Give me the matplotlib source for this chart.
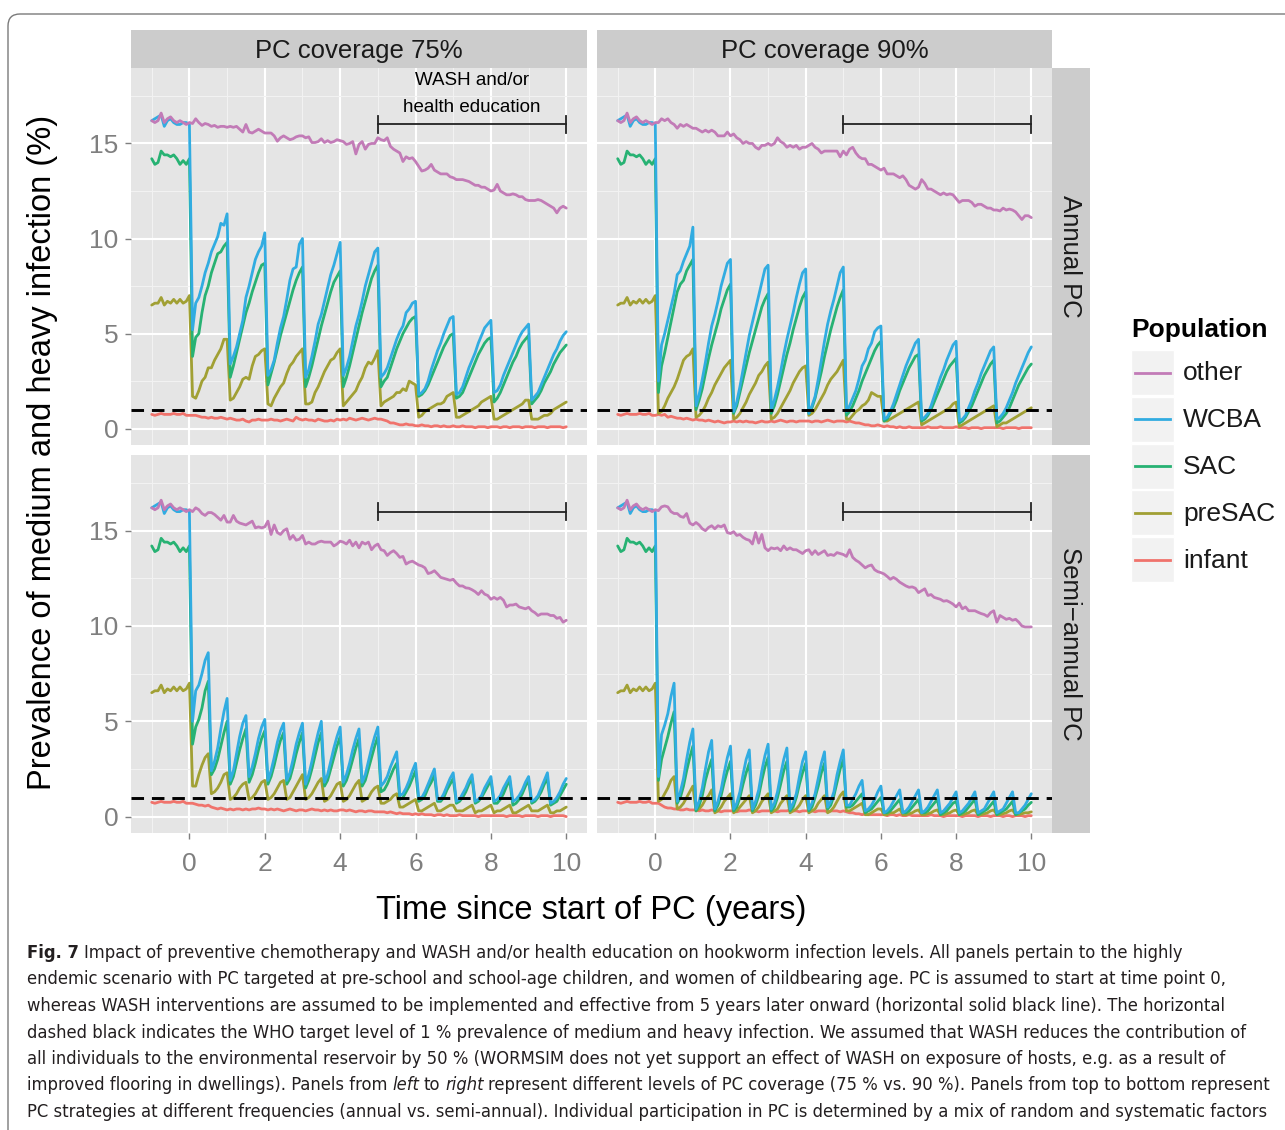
import numpy as np
import matplotlib
matplotlib.use("Agg")
import matplotlib.pyplot as plt
from matplotlib import font_manager
from matplotlib.patches import FancyBboxPatch, Rectangle

plt.rcParams["font.family"] = ["Liberation Sans", "DejaVu Sans"]

# monthly time steps: one year of burn-in, PC starts at year 0
months = np.arange(-12, 121)
years = months / 12.0

populations = ["other", "WCBA", "SAC", "preSAC", "infant"]
draw_order = ["infant", "preSAC", "SAC", "WCBA", "other"]
pop_colors = {"other": "#C27BB7", "WCBA": "#31ACE1", "SAC": "#27B273",
              "preSAC": "#A1A034", "infant": "#F0736C"}

col_titles = ["PC coverage 75%", "PC coverage 90%"]
row_titles = ["Annual PC", "Semi\u2212annual PC"]

who_target = 1.0
wash_start, wash_end, wash_level = 5, 10, 16.0

# prevalence of medium/heavy infection (%) before PC, months -12..0
pre_other = [16.2, 16.1, 16.2, 16.6, 16.1, 16.3, 16.4, 16.2, 16.1, 16.2, 16.1, 16.0, 16.1]
pre_wcba = [16.2, 16.3, 16.4, 16.5, 15.9, 16.2, 16.3, 16.1, 16.0, 16.0, 16.1, 16.1, 16.0]
pre_sac = [14.2, 13.9, 14.0, 14.6, 14.4, 14.4, 14.3, 14.4, 14.2, 13.9, 14.1, 13.9, 14.2]
pre_presac = [6.5, 6.6, 6.6, 6.9, 6.5, 6.7, 6.6, 6.8, 6.6, 6.8, 6.6, 6.7, 7.0]
pre_infant = [0.75, 0.7, 0.75, 0.8, 0.75, 0.75, 0.75, 0.8, 0.75, 0.75, 0.8, 0.7, 0.7]

# annual PC, 75% coverage, months 1..120
annual75_other = [
    16.05, 16.3, 16.1, 15.95, 16.05, 16.0, 15.9, 15.95, 15.85, 15.9, 15.9, 15.85,
    15.9, 15.85, 15.9, 15.75, 15.6, 16.0, 15.6, 15.55, 15.65, 15.75, 15.65, 15.55,
    15.55, 15.55, 15.4, 15.12, 15.3, 15.4, 15.3, 15.2, 15.25, 15.35, 15.4, 15.4,
    15.3, 15.35, 15.05, 15.05, 15.1, 15.25, 15.05, 15.15, 15.05, 15.1, 15.2, 15.15,
    15.1, 14.95, 15.0, 15.1, 14.45, 14.95, 15.1, 14.7, 14.95, 15.0, 15.0, 15.3,
    15.2, 15.15, 15.3, 14.85, 14.7, 14.6, 14.5, 14.05, 14.3, 14.2, 14.25, 14.05,
    13.8, 13.55, 13.6, 13.7, 13.9, 13.6, 13.5, 13.4, 13.4, 13.4, 13.25, 13.2,
    13.1, 13.1, 13.1, 13.05, 13.0, 12.9, 12.8, 12.8, 12.7, 12.7, 12.6, 12.5,
    12.55, 12.85, 12.5, 12.4, 12.3, 12.3, 12.35, 12.3, 12.2, 12.2, 12.05, 12.0,
    12.0, 12.0, 12.05, 12.0, 11.9, 11.8, 11.7, 11.6, 11.35, 11.6, 11.7, 11.6]
annual75_wcba = [
    5.2, 6.6, 6.9, 7.5, 8.2, 8.7, 9.3, 9.7, 10.1, 10.8, 10.7, 11.3,
    3.4, 3.8, 4.3, 5.0, 5.7, 6.9, 7.5, 8.2, 8.9, 9.3, 9.6, 10.3,
    2.8, 3.1, 3.6, 4.5, 5.3, 5.9, 6.8, 7.8, 8.4, 8.5, 9.7, 10.0,
    2.7, 3.1, 3.8, 4.6, 5.5, 6.0, 6.7, 7.4, 8.1, 8.6, 9.2, 9.8,
    2.8, 3.2, 3.8, 4.6, 5.4, 6.0, 6.7, 7.5, 8.1, 8.7, 9.3, 9.5,
    2.7, 2.9, 3.2, 3.7, 4.2, 4.7, 5.1, 5.4, 6.1, 6.3, 6.6, 6.7,
    1.8, 1.9, 2.1, 2.5, 3.1, 3.6, 4.1, 4.5, 5.0, 5.4, 5.8, 5.9,
    1.8, 1.9, 2.2, 2.7, 3.2, 3.6, 4.0, 4.5, 4.9, 5.3, 5.5, 5.7,
    1.9, 2.0, 2.3, 2.8, 3.2, 3.6, 4.0, 4.4, 4.8, 5.1, 5.3, 5.5,
    1.5, 1.7, 1.9, 2.3, 2.7, 3.1, 3.5, 3.9, 4.2, 4.6, 4.9, 5.1]
annual75_sac = [
    3.8, 4.8, 5.0, 6.1, 7.0, 7.5, 8.2, 8.7, 9.2, 9.3, 9.6, 9.8,
    2.7, 3.3, 4.0, 4.7, 5.4, 6.1, 6.6, 7.2, 7.7, 8.2, 8.6, 8.7,
    2.3, 2.9, 3.5, 4.2, 4.9, 5.5, 6.1, 6.7, 7.3, 7.8, 8.2, 8.5,
    2.2, 2.7, 3.3, 4.0, 4.7, 5.4, 6.0, 6.6, 7.2, 7.7, 8.0, 8.3,
    2.2, 2.7, 3.3, 4.0, 4.7, 5.4, 6.1, 6.7, 7.3, 7.9, 8.3, 8.6,
    2.2, 2.5, 2.7, 3.2, 3.7, 4.2, 4.6, 5.0, 5.3, 5.6, 5.8, 5.9,
    1.7, 1.8, 2.0, 2.3, 2.7, 3.1, 3.5, 3.9, 4.3, 4.6, 4.9, 5.0,
    1.6, 1.7, 1.9, 2.3, 2.7, 3.1, 3.5, 3.9, 4.2, 4.5, 4.7, 4.8,
    1.4, 1.6, 1.9, 2.3, 2.7, 3.1, 3.5, 3.8, 4.2, 4.5, 4.7, 4.9,
    1.3, 1.5, 1.7, 2.0, 2.4, 2.7, 3.0, 3.4, 3.7, 4.0, 4.2, 4.4]
annual75_presac = [
    1.7, 1.6, 2.0, 2.5, 2.7, 3.2, 3.2, 3.6, 3.9, 4.2, 4.7, 4.7,
    1.5, 1.6, 1.9, 2.2, 2.6, 2.7, 2.6, 3.3, 3.8, 3.9, 4.1, 4.2,
    1.3, 1.2, 1.6, 1.9, 2.2, 2.4, 2.9, 3.3, 3.5, 3.8, 4.0, 4.2,
    1.3, 1.3, 1.4, 1.9, 2.2, 2.6, 3.0, 3.3, 3.6, 3.7, 4.0, 4.2,
    1.2, 1.4, 1.6, 1.8, 2.0, 2.4, 2.7, 3.2, 3.5, 3.4, 3.7, 4.1,
    1.2, 1.4, 1.5, 1.6, 1.7, 1.9, 1.9, 2.1, 2.0, 2.5, 2.4, 2.3,
    0.6, 0.7, 0.9, 1.0, 1.1, 1.2, 1.3, 1.3, 1.4, 1.7, 1.8, 1.9,
    0.6, 0.6, 0.7, 0.8, 0.9, 1.0, 1.1, 1.2, 1.4, 1.5, 1.6, 1.7,
    0.5, 0.5, 0.6, 0.7, 0.8, 0.9, 1.0, 1.1, 1.2, 1.3, 1.5, 1.5,
    0.5, 0.5, 0.5, 0.6, 0.7, 0.7, 0.8, 1.0, 1.1, 1.2, 1.3, 1.4]
annual75_infant = [
    0.7, 0.7, 0.65, 0.6, 0.6, 0.55, 0.6, 0.55, 0.55, 0.6, 0.55, 0.5,
    0.55, 0.5, 0.45, 0.45, 0.5, 0.4, 0.35, 0.45, 0.45, 0.5, 0.45, 0.45,
    0.45, 0.5, 0.45, 0.45, 0.4, 0.45, 0.5, 0.45, 0.4, 0.6, 0.5, 0.45,
    0.5, 0.45, 0.45, 0.4, 0.5, 0.45, 0.4, 0.4, 0.45, 0.4, 0.5, 0.45,
    0.5, 0.45, 0.55, 0.5, 0.45, 0.5, 0.55, 0.5, 0.45, 0.5, 0.55, 0.5,
    0.5, 0.45, 0.4, 0.3, 0.3, 0.25, 0.2, 0.2, 0.25, 0.2, 0.2, 0.15,
    0.15, 0.2, 0.15, 0.15, 0.1, 0.15, 0.15, 0.1, 0.15, 0.1, 0.1, 0.15,
    0.1, 0.1, 0.15, 0.1, 0.1, 0.1, 0.05, 0.1, 0.1, 0.1, 0.05, 0.1,
    0.1, 0.1, 0.05, 0.1, 0.1, 0.05, 0.1, 0.1, 0.1, 0.05, 0.1, 0.1,
    0.1, 0.05, 0.1, 0.1, 0.1, 0.05, 0.1, 0.1, 0.1, 0.1, 0.05, 0.1]

# annual PC, 90% coverage
annual90_other = [
    16.1, 16.3, 16.2, 16.3, 16.1, 16.0, 15.8, 16.0, 15.9, 16.0, 15.9, 15.8,
    15.8, 15.7, 15.6, 15.7, 15.6, 15.7, 15.6, 15.4, 15.4, 15.4, 15.6, 15.4,
    15.5, 15.3, 15.2, 15.0, 15.1, 15.0, 15.0, 14.8, 14.7, 14.9, 14.9, 15.0,
    14.9, 15.0, 15.3, 15.1, 15.0, 14.8, 14.9, 14.8, 14.9, 14.7, 14.8, 14.8,
    14.9, 15.0, 14.8, 14.7, 14.5, 14.6, 14.6, 14.6, 14.6, 14.6, 14.3, 14.6,
    14.4, 14.7, 14.8, 14.5, 14.3, 14.2, 14.2, 13.9, 13.9, 13.8, 13.7, 13.6,
    13.7, 13.4, 13.4, 13.4, 13.3, 13.2, 13.3, 13.1, 12.8, 12.7, 12.6, 12.7,
    13.1, 12.9, 12.6, 12.6, 12.5, 12.4, 12.3, 12.4, 12.3, 12.35, 12.3, 12.1,
    11.9, 12.0, 12.0, 12.0, 11.9, 11.7, 11.8, 11.8, 11.7, 11.6, 11.6, 11.5,
    11.5, 11.45, 11.6, 11.5, 11.55, 11.5, 11.4, 11.2, 11.0, 11.2, 11.2, 11.1]
annual90_wcba = [
    2.5, 4.4, 5.0, 5.7, 6.4, 7.1, 8.1, 8.3, 8.8, 9.2, 9.6, 10.6,
    1.2, 1.8, 2.6, 3.5, 4.5, 5.4, 6.0, 6.7, 7.5, 8.1, 8.7, 8.9,
    0.9, 1.4, 2.2, 3.1, 4.0, 4.9, 5.6, 6.3, 7.0, 7.7, 8.4, 8.6,
    1.0, 1.5, 2.2, 3.0, 3.9, 4.7, 5.4, 6.1, 6.9, 7.6, 8.2, 8.4,
    0.8, 1.2, 1.7, 2.6, 3.6, 4.6, 5.5, 6.2, 6.8, 7.5, 8.2, 8.5,
    0.9, 1.2, 1.6, 2.0, 2.6, 3.3, 3.6, 4.2, 4.5, 5.1, 5.3, 5.4,
    0.5, 0.6, 0.9, 1.3, 1.8, 2.3, 2.8, 3.3, 3.7, 4.1, 4.5, 4.7,
    0.5, 0.6, 0.8, 1.2, 1.7, 2.2, 2.7, 3.1, 3.6, 4.0, 4.4, 4.6,
    0.4, 0.5, 0.7, 1.1, 1.5, 2.0, 2.4, 2.9, 3.3, 3.7, 4.1, 4.3,
    0.5, 0.6, 0.8, 1.1, 1.5, 1.9, 2.4, 2.8, 3.2, 3.6, 4.0, 4.3]
annual90_sac = [
    1.9, 3.3, 4.0, 4.8, 5.6, 6.4, 7.2, 7.6, 7.8, 8.3, 8.6, 8.9,
    1.0, 1.5, 2.1, 2.9, 3.7, 4.4, 5.0, 5.6, 6.3, 6.8, 7.3, 7.6,
    0.8, 1.2, 1.9, 2.6, 3.3, 4.0, 4.6, 5.2, 5.8, 6.4, 6.8, 7.1,
    0.8, 1.2, 1.8, 2.5, 3.2, 3.9, 4.5, 5.2, 5.8, 6.4, 6.9, 7.2,
    0.8, 1.1, 1.6, 2.3, 3.0, 3.8, 4.5, 5.2, 5.8, 6.4, 6.9, 7.3,
    0.7, 0.9, 1.2, 1.6, 2.0, 2.5, 2.9, 3.3, 3.7, 4.1, 4.4, 4.6,
    0.4, 0.5, 0.8, 1.1, 1.5, 2.0, 2.4, 2.8, 3.2, 3.5, 3.8, 3.9,
    0.4, 0.5, 0.7, 1.0, 1.4, 1.8, 2.2, 2.6, 3.0, 3.3, 3.5, 3.7,
    0.3, 0.4, 0.6, 0.9, 1.2, 1.6, 2.0, 2.4, 2.8, 3.1, 3.4, 3.6,
    0.3, 0.4, 0.6, 0.8, 1.1, 1.5, 1.9, 2.3, 2.6, 2.9, 3.2, 3.4]
annual90_presac = [
    0.8, 0.9, 1.2, 1.6, 1.9, 2.2, 2.6, 3.1, 3.6, 3.8, 3.9, 4.2,
    0.6, 0.7, 0.9, 1.2, 1.6, 1.9, 2.3, 2.6, 2.9, 3.2, 3.4, 3.6,
    0.5, 0.6, 0.8, 1.1, 1.4, 1.8, 2.1, 2.4, 2.8, 3.0, 3.3, 3.5,
    0.5, 0.6, 0.8, 1.1, 1.4, 1.7, 2.0, 2.4, 2.7, 3.0, 3.2, 3.3,
    0.7, 0.8, 1.0, 1.3, 1.6, 1.9, 2.3, 2.6, 2.8, 3.0, 3.3, 3.6,
    0.5, 0.5, 0.7, 0.9, 1.0, 1.2, 1.3, 1.5, 1.9, 1.8, 1.7, 1.7,
    0.4, 0.4, 0.5, 0.6, 0.7, 0.8, 0.9, 1.0, 1.1, 1.2, 1.3, 1.4,
    0.2, 0.3, 0.4, 0.5, 0.6, 0.7, 0.8, 0.9, 1.0, 1.1, 1.3, 1.4,
    0.1, 0.2, 0.3, 0.4, 0.5, 0.6, 0.7, 0.8, 0.9, 1.0, 1.1, 1.2,
    0.1, 0.2, 0.3, 0.3, 0.4, 0.5, 0.6, 0.7, 0.8, 0.9, 1.0, 1.1]
annual90_infant = [
    0.75, 0.7, 0.75, 0.6, 0.65, 0.6, 0.55, 0.55, 0.5, 0.55, 0.5, 0.45,
    0.5, 0.45, 0.45, 0.4, 0.45, 0.4, 0.35, 0.4, 0.35, 0.3, 0.35, 0.35,
    0.4, 0.35, 0.4, 0.35, 0.4, 0.35, 0.35, 0.3, 0.35, 0.4, 0.35, 0.35,
    0.4, 0.35, 0.4, 0.45, 0.4, 0.35, 0.4, 0.4, 0.35, 0.4, 0.4, 0.4,
    0.4, 0.35, 0.4, 0.4, 0.35, 0.4, 0.45, 0.4, 0.35, 0.4, 0.4, 0.4,
    0.35, 0.4, 0.35, 0.3, 0.3, 0.25, 0.2, 0.2, 0.15, 0.15, 0.2, 0.15,
    0.1, 0.15, 0.1, 0.1, 0.05, 0.1, 0.05, 0.05, 0.1, 0.05, 0.05, 0.05,
    0.05, 0.05, 0.1, 0.05, 0.05, 0.05, 0.1, 0.05, 0.05, 0.05, 0.05, 0.1,
    0.05, 0.05, 0.05, 0.0, 0.05, 0.05, 0.05, 0.0, 0.05, 0.05, 0.05, 0.05,
    0.05, 0.05, 0.0, 0.05, 0.05, 0.05, 0.05, 0.0, 0.05, 0.05, 0.05, 0.05]

# semi-annual PC, 75% coverage
semi75_other = [
    16.0, 16.2, 16.1, 15.9, 15.8, 15.95, 15.95, 15.85, 15.7, 15.55, 15.8, 15.45,
    15.45, 15.8, 15.5, 15.4, 15.35, 15.3, 15.4, 15.5, 15.15, 15.2, 15.15, 15.2,
    15.5, 14.8, 15.3, 14.9, 14.8, 15.0, 15.1, 14.55, 14.75, 14.5, 14.55, 14.75,
    14.3, 14.4, 14.3, 14.3, 14.4, 14.45, 14.4, 14.4, 14.4, 14.2, 14.3, 14.45,
    14.4, 14.3, 14.5, 14.2, 14.4, 14.1, 14.4, 14.3, 14.4, 14.0, 14.2, 14.3,
    14.0, 13.95, 13.7, 13.85, 13.95, 13.8, 13.6, 13.65, 13.25, 13.35, 13.4, 13.3,
    13.2, 13.15, 13.05, 12.75, 12.8, 12.9, 12.73, 12.55, 12.5, 12.45, 12.4, 12.45,
    12.25, 12.1, 12.1, 12.0, 11.98, 11.9, 11.8, 11.65, 11.85, 11.67, 11.6, 11.4,
    11.5, 11.4, 11.5, 11.35, 11.0, 11.1, 11.1, 11.15, 11.0, 10.95, 10.9, 10.98,
    10.8, 10.7, 10.55, 10.63, 10.63, 10.63, 10.55, 10.55, 10.4, 10.45, 10.2, 10.3]
semi75_wcba = [
    5.0, 6.6, 6.9, 7.5, 8.2, 8.6, 2.4, 2.9, 3.6, 4.6, 5.5, 6.2,
    1.9, 2.4, 3.3, 4.2, 4.9, 5.3, 2.1, 2.6, 3.3, 4.1, 4.7, 5.1,
    1.9, 2.4, 3.1, 3.9, 4.5, 4.9, 1.9, 2.3, 3.0, 3.8, 4.4, 4.9,
    1.7, 2.2, 2.9, 3.7, 4.4, 5.0, 1.8, 2.2, 2.9, 3.6, 4.2, 4.7,
    1.8, 2.2, 2.8, 3.5, 4.1, 4.6, 1.8, 2.2, 2.9, 3.6, 4.2, 4.7,
    1.6, 1.8, 2.1, 2.6, 3.0, 3.4, 1.1, 1.2, 1.5, 1.9, 2.4, 2.8,
    1.0, 1.0, 1.3, 1.7, 2.1, 2.5, 0.9, 0.9, 1.2, 1.6, 2.0, 2.3,
    0.8, 0.9, 1.2, 1.5, 1.9, 2.2, 0.8, 0.9, 1.1, 1.5, 1.8, 2.1,
    0.8, 0.9, 1.1, 1.5, 1.8, 2.1, 0.8, 0.9, 1.1, 1.4, 1.8, 2.1,
    0.8, 0.9, 1.1, 1.5, 1.9, 2.3, 0.7, 0.8, 1.0, 1.3, 1.7, 2.0]
semi75_sac = [
    3.8, 4.7, 5.1, 5.7, 6.6, 7.1, 2.2, 2.5, 3.0, 3.7, 4.4, 5.0,
    1.7, 2.1, 2.8, 3.5, 4.1, 4.6, 1.8, 2.2, 2.8, 3.5, 4.1, 4.5,
    1.7, 2.1, 2.7, 3.4, 4.0, 4.4, 1.7, 2.0, 2.6, 3.3, 3.9, 4.4,
    1.5, 1.9, 2.5, 3.2, 3.9, 4.4, 1.6, 1.9, 2.5, 3.1, 3.7, 4.2,
    1.6, 1.9, 2.4, 3.0, 3.6, 4.1, 1.6, 1.9, 2.5, 3.1, 3.7, 4.2,
    1.3, 1.4, 1.7, 2.1, 2.5, 2.8, 0.9, 1.0, 1.3, 1.6, 2.0, 2.4,
    0.8, 0.9, 1.1, 1.5, 1.8, 2.2, 0.8, 0.8, 1.0, 1.4, 1.7, 2.0,
    0.7, 0.8, 1.0, 1.3, 1.7, 2.0, 0.7, 0.8, 1.0, 1.3, 1.6, 1.9,
    0.7, 0.7, 0.9, 1.2, 1.6, 1.9, 0.6, 0.7, 0.9, 1.2, 1.6, 1.9,
    0.7, 0.8, 1.0, 1.3, 1.7, 2.0, 0.6, 0.7, 0.8, 1.1, 1.4, 1.7]
semi75_presac = [
    1.6, 1.6, 2.2, 2.7, 3.1, 3.3, 1.2, 1.3, 1.5, 1.8, 2.2, 2.3,
    0.9, 1.0, 1.2, 1.5, 1.7, 1.8, 0.9, 1.0, 1.2, 1.5, 1.8, 1.9,
    0.9, 1.0, 1.2, 1.5, 1.8, 1.9, 0.9, 1.0, 1.3, 1.6, 1.9, 2.2,
    0.9, 1.0, 1.2, 1.5, 1.8, 2.0, 0.8, 0.9, 1.1, 1.4, 1.7, 1.8,
    0.8, 0.9, 1.1, 1.4, 1.7, 1.9, 0.8, 0.9, 1.0, 1.3, 1.5, 1.6,
    0.7, 0.7, 0.8, 0.9, 1.1, 1.2, 0.5, 0.5, 0.6, 0.7, 0.8, 0.9,
    0.3, 0.3, 0.4, 0.5, 0.6, 0.7, 0.3, 0.3, 0.4, 0.5, 0.6, 0.6,
    0.3, 0.3, 0.3, 0.4, 0.5, 0.6, 0.2, 0.3, 0.3, 0.4, 0.5, 0.6,
    0.2, 0.3, 0.3, 0.4, 0.5, 0.6, 0.2, 0.2, 0.3, 0.4, 0.5, 0.6,
    0.3, 0.3, 0.3, 0.4, 0.5, 0.6, 0.2, 0.2, 0.3, 0.3, 0.4, 0.5]
semi75_infant = [
    0.7, 0.65, 0.6, 0.6, 0.55, 0.6, 0.5, 0.45, 0.4, 0.45, 0.4, 0.35,
    0.4, 0.35, 0.4, 0.4, 0.35, 0.4, 0.35, 0.4, 0.4, 0.45, 0.4, 0.4,
    0.35, 0.4, 0.35, 0.4, 0.35, 0.3, 0.35, 0.4, 0.35, 0.3, 0.35, 0.35,
    0.3, 0.35, 0.4, 0.35, 0.35, 0.3, 0.35, 0.3, 0.35, 0.3, 0.3, 0.35,
    0.35, 0.3, 0.35, 0.3, 0.25, 0.3, 0.3, 0.25, 0.3, 0.3, 0.25, 0.25,
    0.25, 0.25, 0.2, 0.25, 0.2, 0.15, 0.2, 0.15, 0.15, 0.15, 0.1, 0.15,
    0.1, 0.15, 0.1, 0.1, 0.1, 0.05, 0.1, 0.1, 0.05, 0.1, 0.05, 0.05,
    0.05, 0.1, 0.05, 0.05, 0.05, 0.05, 0.05, 0.0, 0.05, 0.05, 0.05, 0.05,
    0.05, 0.05, 0.05, 0.05, 0.0, 0.05, 0.05, 0.05, 0.05, 0.0, 0.05, 0.05,
    0.05, 0.05, 0.0, 0.05, 0.05, 0.05, 0.0, 0.05, 0.05, 0.05, 0.05, 0.0]

# semi-annual PC, 90% coverage
semi90_other = [
    16.05, 16.25, 16.3, 16.25, 16.0, 15.9, 15.9, 15.75, 15.7, 15.9, 15.4, 15.3,
    15.43, 15.3, 15.1, 15.0, 15.17, 15.26, 15.1, 15.26, 15.2, 15.3, 14.9, 14.85,
    14.95, 14.75, 14.8, 14.65, 14.55, 14.5, 14.3, 14.9, 14.35, 14.8, 14.1, 13.95,
    14.1, 14.05, 14.1, 13.95, 14.2, 14.0, 14.1, 14.0, 14.0, 13.9, 13.8, 13.95,
    14.0, 13.75, 13.95, 13.75, 13.85, 13.95, 13.7, 13.75, 13.7, 13.85, 13.8, 13.75,
    13.65, 14.0, 13.6, 13.45, 13.35, 13.2, 13.05, 13.15, 13.2, 12.95, 12.85, 12.8,
    12.73, 12.6, 12.45, 12.55, 12.45, 12.3, 12.2, 12.1, 12.03, 12.05, 11.98, 11.75,
    11.85, 11.95, 11.6, 11.65, 11.5, 11.45, 11.4, 11.3, 11.33, 11.25, 11.15, 11.0,
    11.2, 10.9, 11.0, 10.8, 10.8, 10.8, 10.72, 10.65, 10.6, 10.5, 10.7, 10.8,
    10.2, 10.55, 10.45, 10.35, 10.4, 10.3, 10.35, 10.2, 10.0, 9.95, 9.95, 9.95]
semi90_wcba = [
    2.1, 4.3, 4.8, 5.4, 6.3, 7.0, 0.8, 1.3, 2.0, 3.0, 3.9, 4.6,
    0.4, 0.8, 1.5, 2.5, 3.4, 4.0, 0.4, 0.8, 1.4, 2.3, 3.1, 3.7,
    0.4, 0.7, 1.3, 2.2, 3.0, 3.5, 0.4, 0.8, 1.4, 2.4, 3.2, 3.8,
    0.4, 0.7, 1.3, 2.2, 3.0, 3.6, 0.4, 0.7, 1.2, 2.1, 2.9, 3.4,
    0.4, 0.7, 1.2, 2.0, 2.8, 3.4, 0.5, 0.8, 1.3, 2.2, 2.9, 3.5,
    0.6, 0.6, 0.9, 1.2, 1.6, 1.9, 0.3, 0.4, 0.6, 0.9, 1.3, 1.6,
    0.2, 0.3, 0.5, 0.8, 1.1, 1.4, 0.2, 0.3, 0.5, 0.8, 1.1, 1.4,
    0.2, 0.3, 0.5, 0.8, 1.1, 1.4, 0.2, 0.3, 0.5, 0.7, 1.0, 1.3,
    0.2, 0.3, 0.5, 0.7, 1.0, 1.3, 0.2, 0.3, 0.4, 0.7, 1.0, 1.3,
    0.2, 0.3, 0.4, 0.7, 1.0, 1.3, 0.2, 0.2, 0.4, 0.6, 0.9, 1.2]
semi90_sac = [
    1.9, 3.0, 3.6, 4.2, 4.9, 5.5, 0.7, 1.0, 1.6, 2.4, 3.1, 3.7,
    0.3, 0.6, 1.1, 1.9, 2.5, 3.0, 0.3, 0.6, 1.1, 1.8, 2.4, 2.9,
    0.3, 0.5, 1.0, 1.7, 2.3, 2.8, 0.3, 0.6, 1.1, 1.9, 2.6, 3.1,
    0.3, 0.5, 1.0, 1.7, 2.4, 2.9, 0.3, 0.5, 1.0, 1.7, 2.3, 2.8,
    0.3, 0.5, 1.0, 1.6, 2.3, 2.8, 0.4, 0.6, 1.1, 1.8, 2.5, 3.0,
    0.5, 0.5, 0.6, 0.8, 1.0, 1.2, 0.2, 0.3, 0.4, 0.6, 0.8, 1.0,
    0.2, 0.2, 0.3, 0.5, 0.7, 0.9, 0.2, 0.2, 0.3, 0.5, 0.7, 0.9,
    0.2, 0.2, 0.3, 0.5, 0.7, 0.9, 0.1, 0.2, 0.3, 0.5, 0.7, 0.8,
    0.1, 0.2, 0.3, 0.5, 0.7, 0.9, 0.1, 0.2, 0.3, 0.4, 0.6, 0.8,
    0.1, 0.2, 0.3, 0.4, 0.6, 0.8, 0.1, 0.2, 0.3, 0.4, 0.6, 0.75]
semi90_presac = [
    0.8, 0.9, 1.2, 1.5, 1.9, 2.1, 0.4, 0.5, 0.7, 1.0, 1.3, 1.6,
    0.3, 0.4, 0.6, 0.9, 1.1, 1.4, 0.2, 0.3, 0.5, 0.8, 1.0, 1.2,
    0.2, 0.3, 0.5, 0.7, 0.9, 1.1, 0.2, 0.3, 0.5, 0.8, 1.0, 1.2,
    0.2, 0.3, 0.4, 0.7, 0.9, 1.1, 0.2, 0.3, 0.4, 0.6, 0.9, 1.1,
    0.2, 0.3, 0.4, 0.7, 0.9, 1.1, 0.2, 0.3, 0.5, 0.8, 1.1, 1.3,
    0.3, 0.3, 0.4, 0.5, 0.6, 0.7, 0.1, 0.1, 0.2, 0.3, 0.4, 0.4,
    0.1, 0.1, 0.2, 0.2, 0.3, 0.4, 0.1, 0.1, 0.15, 0.2, 0.3, 0.35,
    0.1, 0.1, 0.15, 0.2, 0.3, 0.35, 0.1, 0.1, 0.15, 0.2, 0.3, 0.35,
    0.1, 0.1, 0.15, 0.2, 0.3, 0.35, 0.1, 0.1, 0.15, 0.2, 0.3, 0.35,
    0.1, 0.1, 0.15, 0.2, 0.3, 0.35, 0.1, 0.1, 0.15, 0.2, 0.2, 0.25]
semi90_infant = [
    0.7, 0.6, 0.5, 0.45, 0.45, 0.4, 0.4, 0.35, 0.35, 0.4, 0.35, 0.35,
    0.35, 0.3, 0.35, 0.3, 0.3, 0.35, 0.3, 0.3, 0.25, 0.3, 0.3, 0.3,
    0.3, 0.25, 0.3, 0.3, 0.3, 0.35, 0.3, 0.3, 0.25, 0.3, 0.3, 0.3,
    0.3, 0.3, 0.25, 0.3, 0.3, 0.3, 0.35, 0.3, 0.3, 0.25, 0.3, 0.3,
    0.3, 0.3, 0.25, 0.3, 0.3, 0.3, 0.25, 0.3, 0.3, 0.3, 0.25, 0.3,
    0.25, 0.2, 0.2, 0.15, 0.15, 0.1, 0.15, 0.1, 0.1, 0.1, 0.1, 0.1,
    0.1, 0.05, 0.1, 0.1, 0.05, 0.1, 0.05, 0.05, 0.1, 0.05, 0.05, 0.05,
    0.05, 0.05, 0.05, 0.1, 0.05, 0.05, 0.05, 0.0, 0.05, 0.05, 0.05, 0.05,
    0.05, 0.0, 0.05, 0.05, 0.05, 0.05, 0.0, 0.05, 0.05, 0.05, 0.0, 0.05,
    0.05, 0.05, 0.0, 0.05, 0.05, 0.0, 0.05, 0.05, 0.05, 0.0, 0.05, 0.05]

caption_lines = [
    [("Fig. 7", "bold", "normal"),
     ("Impact of preventive chemotherapy and WASH and/or health education on hookworm "
      "infection levels. All panels pertain to the highly", "normal", "normal")],
    [("endemic scenario with PC targeted at pre-school and school-age children, and women "
      "of childbearing age. PC is assumed to start at time point 0,", "normal", "normal")],
    [("whereas WASH interventions are assumed to be implemented and effective from 5 years "
      "later onward (horizontal solid black line). The horizontal", "normal", "normal")],
    [("dashed black indicates the WHO target level of 1 % prevalence of medium and heavy "
      "infection. We assumed that WASH reduces the contribution of", "normal", "normal")],
    [("all individuals to the environmental reservoir by 50 % (WORMSIM does not yet support "
      "an effect of WASH on exposure of hosts, e.g. as a result of", "normal", "normal")],
    [("improved flooring in dwellings). Panels from", "normal", "normal"),
     ("left", "normal", "italic"), ("to", "normal", "normal"), ("right", "normal", "italic"),
     ("represent different levels of PC coverage (75 % vs. 90 %). Panels from top to bottom "
      "represent", "normal", "normal")],
    [("PC strategies at different frequencies (annual vs. semi-annual). Individual "
      "participation in PC is determined by a mix of random and systematic factors",
      "normal", "normal")],
]


def full_series(pre, post):
    assert len(post) == 120
    return np.array(pre + post)


def scenario(other, wcba, sac, presac, infant):
    return {"other": full_series(pre_other, other),
            "WCBA": full_series(pre_wcba, wcba),
            "SAC": full_series(pre_sac, sac),
            "preSAC": full_series(pre_presac, presac),
            "infant": full_series(pre_infant, infant)}


panels = {
    (0, 0): scenario(annual75_other, annual75_wcba, annual75_sac, annual75_presac, annual75_infant),
    (0, 1): scenario(annual90_other, annual90_wcba, annual90_sac, annual90_presac, annual90_infant),
    (1, 0): scenario(semi75_other, semi75_wcba, semi75_sac, semi75_presac, semi75_infant),
    (1, 1): scenario(semi90_other, semi90_wcba, semi90_sac, semi90_presac, semi90_infant),
}

W, H = 1285, 1130


def px_rect(x0, y0, x1, y1):
    # pixel box measured from the top-left corner -> figure fraction
    return [x0 / W, 1 - y1 / H, (x1 - x0) / W, (y1 - y0) / H]


def style_strip(ax):
    ax.set_facecolor("#CCCCCC")
    ax.set_xticks([])
    ax.set_yticks([])
    for s in ax.spines.values():
        s.set_visible(False)


fig = plt.figure(figsize=(W / 100, H / 100), dpi=100)

# rounded frame around figure and caption
fig.add_artist(FancyBboxPatch((0.08, -0.5), 13.3, 11.66,
                              boxstyle="round,pad=0,rounding_size=0.12",
                              transform=fig.dpi_scale_trans, fill=False,
                              ec="#7A7A7A", lw=1.0))

col_px = [(131, 587), (597, 1052)]
row_px = [(68, 445), (455, 833)]

for r in range(2):
    for c in range(2):
        ax = fig.add_axes(px_rect(col_px[c][0], row_px[r][0], col_px[c][1], row_px[r][1]))
        ax.set_facecolor("#E5E5E5")
        ax.set_xlim(-1.55, 10.55)
        ax.set_ylim(-0.86, 18.97)
        ax.set_xticks(range(0, 11, 2))
        ax.set_xticks(range(-1, 10, 2), minor=True)
        ax.set_yticks([0, 5, 10, 15])
        ax.set_yticks([2.5, 7.5, 12.5, 17.5], minor=True)
        ax.grid(which="major", color="white", lw=1.5)
        ax.grid(which="minor", color="#F2F2F2", lw=0.75)
        ax.set_axisbelow(True)
        for s in ax.spines.values():
            s.set_visible(False)
        ax.tick_params(which="major", direction="out", length=4.5, width=1.0,
                       color="#7F7F7F", labelcolor="#7F7F7F", labelsize=19)
        ax.tick_params(which="minor", length=0)
        ax.tick_params(axis="x", pad=9.5, bottom=(r == 1), labelbottom=(r == 1))
        ax.tick_params(axis="y", pad=4.5, left=(c == 0), labelleft=(c == 0))

        data = panels[(r, c)]
        for pop in draw_order:
            ax.plot(years, data[pop], color=pop_colors[pop], lw=2.0,
                    solid_joinstyle="round", solid_capstyle="round", zorder=2)
        ax.axhline(who_target, color="black", lw=2.1, dashes=(4.3, 2.7), zorder=3)

        # WASH period bracket
        ax.plot([wash_start, wash_end], [wash_level, wash_level], color="#222222", lw=1.3, zorder=3)
        for xe in (wash_start, wash_end):
            ax.plot([xe, xe], [wash_level - 0.45, wash_level + 0.45], color="#222222", lw=1.3, zorder=3)
        if (r, c) == (0, 0):
            ax.text((wash_start + wash_end) / 2, 17.6, "WASH and/or\nhealth education",
                    ha="center", va="center", fontsize=13.5, linespacing=1.8)

# facet strips
for c in range(2):
    sax = fig.add_axes(px_rect(col_px[c][0], 30, col_px[c][1], 68))
    style_strip(sax)
    sax.text(0.5, 0.45, col_titles[c], transform=sax.transAxes, ha="center", va="center",
             fontsize=18.5, color="#1A1A1A")
for r in range(2):
    sax = fig.add_axes(px_rect(1052, row_px[r][0], 1090, row_px[r][1]))
    style_strip(sax)
    sax.text(0.47, 0.5, row_titles[r], transform=sax.transAxes, ha="center", va="center",
             rotation=270, fontsize=18.5, color="#1A1A1A")

# axis titles
fig.text(591 / W, 1 - 910 / H, "Time since start of PC (years)", ha="center", va="center",
         fontsize=23.5)
fig.text(43 / W, 1 - 452 / H, "Prevalence of medium and heavy infection (%)", rotation=90,
         ha="center", va="center", fontsize=23.5)

# legend
leg = fig.add_axes(px_rect(1120, 300, 1285, 600))
leg.set_xlim(1120, 1285)
leg.set_ylim(600, 300)
leg.axis("off")
leg.text(1131, 337, "Population", fontsize=19, fontweight="bold", va="baseline", ha="left")
for i, pop in enumerate(populations):
    y0 = 350 + 46.8 * i
    leg.add_patch(Rectangle((1131, y0), 43, 45, facecolor="#F2F2F2", edgecolor="white", lw=1))
    leg.plot([1135, 1170], [y0 + 22.5, y0 + 22.5], color=pop_colors[pop], lw=2.0)
    leg.text(1183, y0 + 23.5, pop, va="center", ha="left", fontsize=19, color="#1A1A1A")


# caption
def caption_font():
    fonts = font_manager.fontManager.ttflist
    if any(f.name == "Liberation Sans Narrow" for f in fonts):
        return "Liberation Sans Narrow", "normal"
    if any(f.name == "DejaVu Sans" and f.stretch == "condensed" for f in fonts):
        return "DejaVu Sans", "condensed"
    return "Liberation Sans", "normal"


cap_family, cap_stretch = caption_font()
cap_ax = fig.add_axes([0, 0, 1, 1])
cap_ax.axis("off")
cap_ax.set_xlim(0, W)
cap_ax.set_ylim(H, 0)

renderer = fig.canvas.get_renderer()
probe_text = " ".join(p[0] for p in caption_lines[5])
probe = cap_ax.text(0, 0, probe_text, fontsize=12, family=cap_family, stretch=cap_stretch)
cap_size = 12 * 1248 / probe.get_window_extent(renderer).width
probe.remove()

baselines = [958, 984.5, 1011, 1037.5, 1064, 1090.5, 1117]
for base, pieces in zip(baselines, caption_lines):
    prev = None
    for text, weight, style in pieces:
        kw = dict(fontsize=cap_size, family=cap_family, stretch=cap_stretch,
                  fontweight=weight, fontstyle=style, color="#231F20", ha="left")
        if prev is None:
            prev = cap_ax.text(27, base, text, va="baseline", **kw)
        else:
            prev = cap_ax.annotate(text, xy=(1, 0), xycoords=prev,
                                   xytext=(cap_size * 0.26, 0), textcoords="offset points",
                                   va="bottom", **kw)

fig.savefig("out.png", dpi=100)
